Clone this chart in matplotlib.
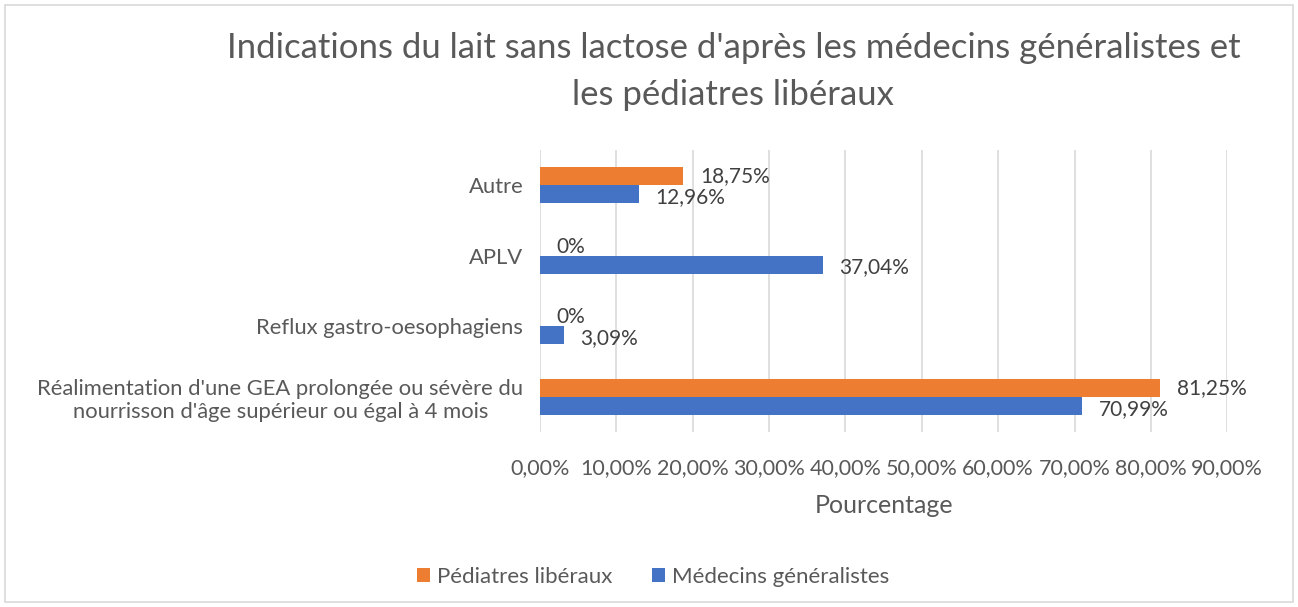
import matplotlib
matplotlib.use("Agg")
from matplotlib import pyplot as plt
from matplotlib.patches import Rectangle
import numpy as np

# données (de bas en haut)
categories = [
    "Réalimentation d'une GEA prolongée ou sévère du\nnourrisson d'âge supérieur ou égal à 4 mois",
    "Reflux gastro-oesophagiens",
    "APLV",
    "Autre",
]
pediatres = [81.25, 0, 0, 18.75]
generalistes = [70.99, 3.09, 37.04, 12.96]
pediatres_labels = ["81,25%", "0%", "0%", "18,75%"]
generalistes_labels = ["70,99%", "3,09%", "37,04%", "12,96%"]
xticks = [0, 10, 20, 30, 40, 50, 60, 70, 80, 90]
xtick_labels = ["0,00%", "10,00%", "20,00%", "30,00%", "40,00%",
                "50,00%", "60,00%", "70,00%", "80,00%", "90,00%"]

plt.rcParams['font.family'] = ['Lato', 'DejaVu Sans']
gris = '#595959'
orange = '#ED7D31'
bleu = '#4472C4'

fig = plt.figure(figsize=(12.98, 6.07), dpi=100)
ax = fig.add_axes([0.416, 0.288, 0.5295, 0.465])

y = np.arange(len(categories))
h = 0.255
ax.barh(y + h / 2, pediatres, height=h, color=orange, label="Pédiatres libéraux")
ax.barh(y - h / 2, generalistes, height=h, color=bleu, label="Médecins généralistes")

for i in range(len(categories)):
    ax.annotate(pediatres_labels[i], (pediatres[i], y[i] + h / 2), xytext=(12, 0),
                textcoords='offset points', va='center', ha='left', fontsize=15, color='#404040')
    ax.annotate(generalistes_labels[i], (generalistes[i], y[i] - h / 2), xytext=(12, -2),
                textcoords='offset points', va='center', ha='left', fontsize=15, color='#404040')

ax.set_xlim(0, 90)
ax.set_ylim(-0.5, len(categories) - 0.5)
ax.set_xticks(xticks)
ax.set_xticklabels(xtick_labels, fontsize=15.5, color=gris)
ax.set_yticks(y)
ax.set_yticklabels(categories, fontsize=15.8, color=gris, multialignment='center')
ax.tick_params(length=0)
ax.tick_params(axis='x', pad=19)
ax.tick_params(axis='y', pad=12)
ax.grid(axis='x', color='#d9d9d9', linewidth=1.2)
ax.set_axisbelow(True)
for s in ax.spines.values():
    s.set_visible(False)
ax.set_xlabel("Pourcentage", fontsize=18, color=gris, labelpad=11)

fig.text(0.565, 0.882, "Indications du lait sans lactose d'après les médecins généralistes et\nles pédiatres libéraux",
         ha='center', va='center', fontsize=25, color=gris, linespacing=1.6)

handles, labels = ax.get_legend_handles_labels()
fig.legend(handles, labels, loc='center', bbox_to_anchor=(0.503, 0.05), ncol=2, frameon=False,
           fontsize=16, labelcolor=gris, handlelength=0.6, handleheight=0.6, columnspacing=1.8,
           handletextpad=0.3)

fig.patches.append(Rectangle((0.004, 0.008), 0.992, 0.984, transform=fig.transFigure,
                             fill=False, edgecolor='#d9d9d9', linewidth=1.2))

plt.savefig("out.png", dpi=100)
